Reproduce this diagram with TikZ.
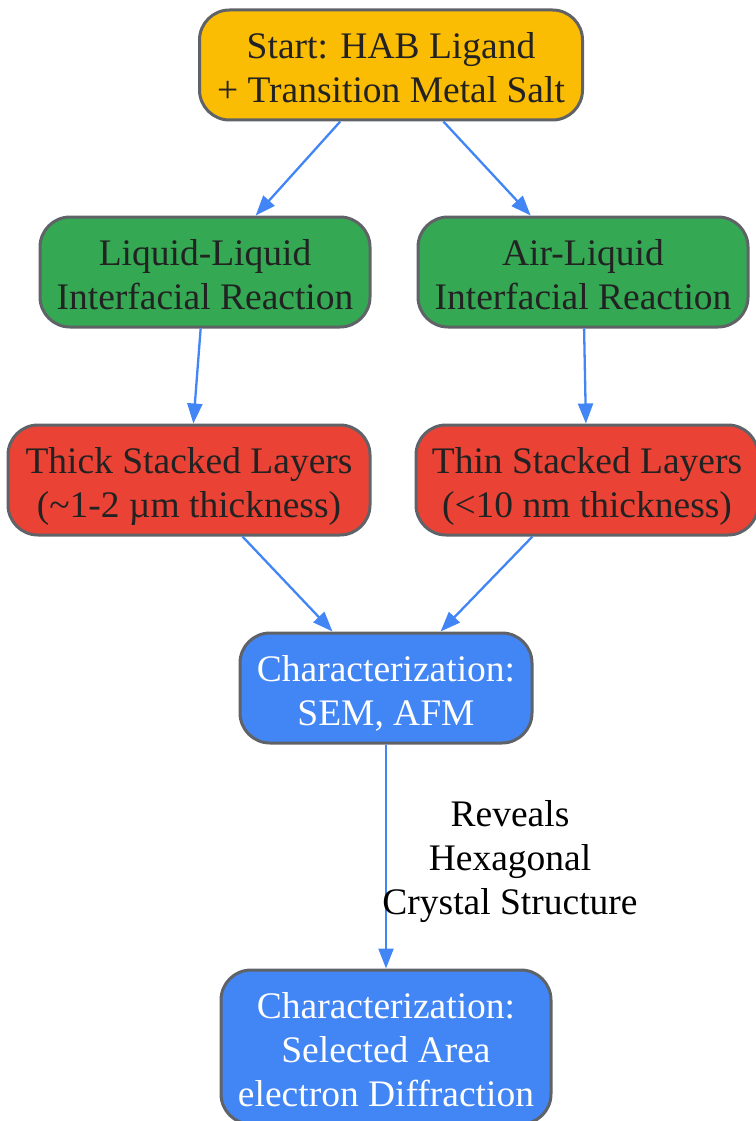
\documentclass[tikz,border=0pt]{standalone}
\usepackage{fontspec}
\setmainfont{Liberation Serif}
\usetikzlibrary{arrows.meta}
\definecolor{cyellow}{HTML}{FBBC04}
\definecolor{cgreen}{HTML}{34A853}
\definecolor{cred}{HTML}{EA4335}
\definecolor{cblue}{HTML}{4285F4}
\definecolor{cborder}{HTML}{5F6368}
\definecolor{ctext}{HTML}{222222}
\newcommand{\boxlines}[1]{\raisebox{-6.5pt}[\height][\depth]{\begin{tabular}{@{}c@{}}#1\end{tabular}}}
\tikzset{
  box/.style={draw=cborder, line width=3pt, rounded corners=30pt,
    inner sep=0pt, text=ctext, font=\fontsize{37.5}{44}\selectfont},
  conn/.style={draw=cblue, line width=2.3pt, -{Triangle[length=20pt,width=15pt]}},
  lbl/.style={align=center, text=black, font=\fontsize{37.5}{44}\selectfont}
}
\begin{document}
\begin{tikzpicture}[x=1pt,y=-1pt]
\useasboundingbox (0,0) rectangle (755,1121);
\node[box, fill=cyellow, minimum width=383pt, minimum height=110pt] (start) at (391,65) {\boxlines{Start: HAB Ligand\\+ Transition Metal Salt}};
\node[box, fill=cgreen, minimum width=330pt, minimum height=110pt] (ll) at (205,272) {\boxlines{Liquid-Liquid\\Interfacial Reaction}};
\node[box, fill=cgreen, minimum width=330pt, minimum height=110pt] (al) at (583,272) {\boxlines{Air-Liquid\\Interfacial Reaction}};
\node[box, fill=cred, minimum width=362pt, minimum height=110pt] (thick) at (189,480) {\boxlines{Thick Stacked Layers\\(\textasciitilde1-2 µm thickness)}};
\node[box, fill=cred, minimum width=342pt, minimum height=110pt] (thin) at (587,480) {\boxlines{Thin Stacked Layers\\(<10 nm thickness)}};
\node[box, fill=cblue, text=white, minimum width=292pt, minimum height=110pt] (sem) at (386,688) {\boxlines{Characterization:\\SEM, AFM}};
\node[box, fill=cblue, text=white, minimum width=330pt, minimum height=154pt] (saed) at (386,1047) {\boxlines{Characterization:\\Selected Area\\electron Diffraction}};
\draw[conn] (start) -- (ll);
\draw[conn] (start) -- (al);
\draw[conn] (ll) -- (thick);
\draw[conn] (al) -- (thin);
\draw[conn] (thick) -- (sem);
\draw[conn] (thin) -- (sem);
\draw[conn] (sem.south) -- (saed.north) node[lbl, pos=0.5, anchor=center, xshift=124pt, yshift=-5pt] (rev) {Reveals\\Hexagonal\\Crystal Structure};
\end{tikzpicture}
\end{document}
